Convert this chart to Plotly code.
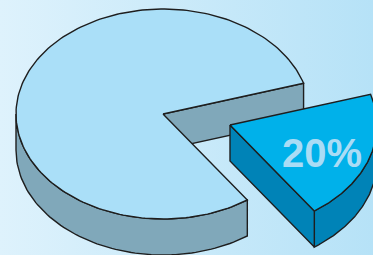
import numpy as np
import plotly.graph_objects as go

# ---- data ----
labels = ["Rest", "Share"]
values = [80, 20]
label_texts = ["", "20%"]

# ---- style / geometry (pixel space) ----
W, H = 373, 255
CX, CY = 163, 114          # centre of main pie top face
RX, RY = 147, 105          # ellipse radii
DEPTH = 36                 # extrusion depth
START = 17.0               # angle (deg) where the big slice starts (counter-clockwise)
EXPLODE = (67, 11)         # offset of the exploded slice
TOP_COL = ["#aadff8", "#00b1ea"]
SIDE_COL = ["#80a8ba", "#0083b7"]
LINE = "#1e1e1e"
LW = 1.4

total = sum(values)
spans = [v / total * 360.0 for v in values]

fig = go.Figure()

# background gradient
fig.add_trace(go.Scatter(
    x=[0, W, W, 0, 0], y=[0, 0, H, H, 0], mode="lines", fill="toself",
    line=dict(width=0), hoverinfo="skip",
    fillgradient=dict(type="horizontal", colorscale=[[0, "#def2fc"], [1, "#b6e2f7"]]),
))


def pt(cx, cy, t, dz=0.0):
    r = np.radians(t)
    return cx + RX * np.cos(r), cy - RY * np.sin(r) + dz


def poly(xs, ys, color):
    fig.add_trace(go.Scatter(
        x=list(xs) + [xs[0]], y=list(ys) + [ys[0]], mode="lines", fill="toself",
        fillcolor=color, line=dict(color=LINE, width=LW), hoverinfo="skip",
    ))


def draw_slice(t0, t1, ox, oy, i, face_at_start, face_at_end):
    cx, cy = CX + ox, CY + oy
    segs = []
    for shift in (-360, 0, 360):
        a, b = max(t0 + shift, 180), min(t1 + shift, 360)
        if a < b:
            segs.append((a, b))
    for a, b in segs:
        ts = np.linspace(a, b, 80)
        xt, yt = pt(cx, cy, ts)
        xb, yb = pt(cx, cy, ts[::-1], DEPTH)
        poly(np.concatenate([xt, xb]), np.concatenate([yt, yb]), SIDE_COL[i])
    for show, t in ((face_at_start, t0), (face_at_end, t1)):
        if show:
            px, py = pt(cx, cy, t)
            poly([cx, px, px, cx], [cy, py, py + DEPTH, cy + DEPTH], SIDE_COL[i])
    ts = np.linspace(t0, t1, 200)
    xt, yt = pt(cx, cy, ts)
    poly(np.concatenate([[cx], xt]), np.concatenate([[cy], yt]), TOP_COL[i])
    return cx, cy


a0 = START
a1 = START + spans[0]
draw_slice(a0, a1, 0, 0, 0, True, False)

b0 = a1 - 360
b1 = START
scx, scy = draw_slice(b0, b1, EXPLODE[0], EXPLODE[1], 1, True, False)

mid = np.radians((b0 + b1) / 2)
lx = scx + 0.66 * RX * np.cos(mid)
ly = scy - 0.66 * RY * np.sin(mid) + 5
fig.add_annotation(x=lx, y=ly, text=label_texts[1], showarrow=False,
                   font=dict(family="Liberation Sans, Arial", size=40, color="#aadcf5",
                             weight="bold"),
                   xanchor="center", yanchor="middle")

fig.update_layout(
    width=W, height=H, margin=dict(l=0, r=0, t=0, b=0),
    showlegend=False, plot_bgcolor="rgba(0,0,0,0)", paper_bgcolor="#cdeafa",
    xaxis=dict(range=[0, W], visible=False, fixedrange=True),
    yaxis=dict(range=[H, 0], visible=False, fixedrange=True),
)
fig.write_html("out.html", config={"displayModeBar": False},
               post_script="document.body.style.margin='0';")
